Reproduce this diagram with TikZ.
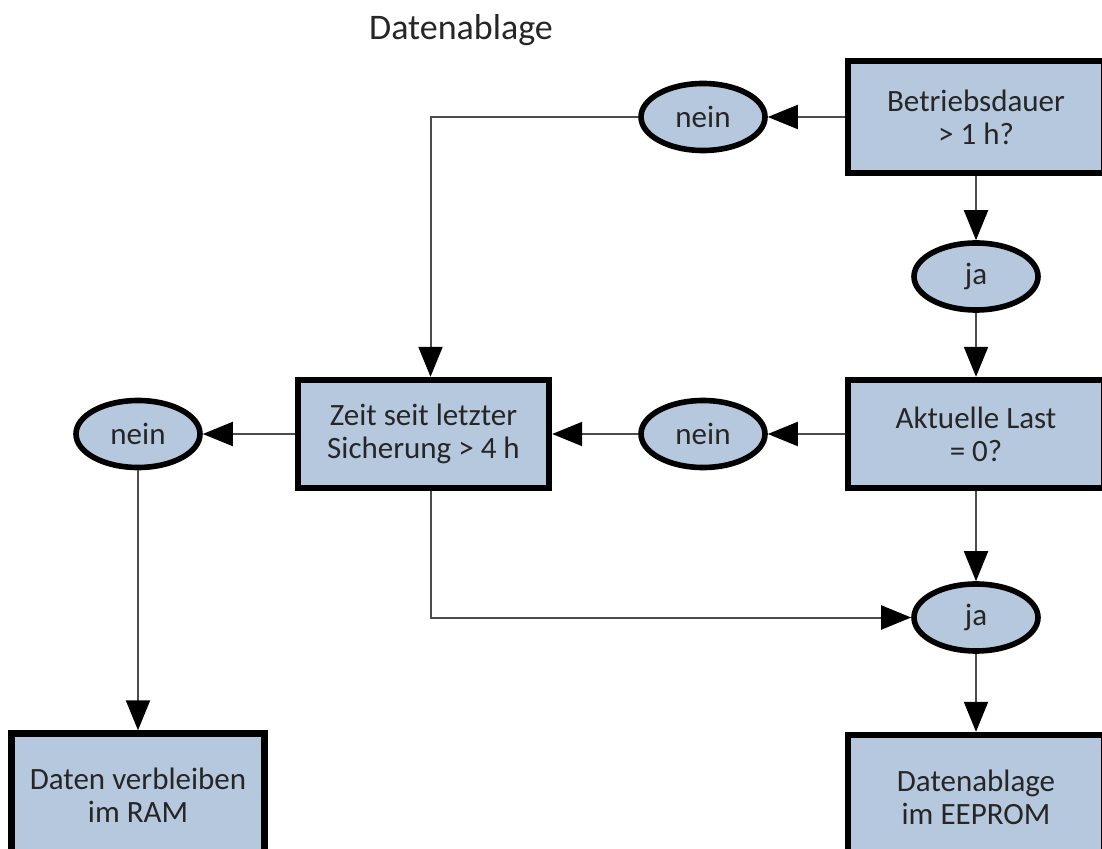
\documentclass[tikz,border=0pt]{standalone}
\usepackage{fontspec}
\setmainfont{Carlito}
\usetikzlibrary{shapes.geometric, positioning, arrows.meta}
\definecolor{boxblue}{RGB}{182,200,222}
\tikzset{every node/.style={ % Text of all nodes
text=black!85,
font=\fontsize{15.5}{16.5}\selectfont},
block/.style={ % Sets the properties for each box
rectangle, draw=black, line width=3.2pt,
fill=boxblue, align=center, inner sep=2pt,
minimum width=128pt, minimum height=54pt},
answer/.style={ % Yes/no ellipses
ellipse, draw=black, line width=2.8pt,
fill=boxblue, inner sep=0pt,
minimum width=62pt, minimum height=33.5pt},
link/.style={ % Sets the properties for each connector
draw=black!70, line width=1pt,
-{Triangle[length=15pt, width=12pt, color=black]}}}

\begin{document}
\begin{tikzpicture}[x=0.5pt, y=-0.5pt]
    \useasboundingbox (0,0) rectangle (1102,849);
    \clip (0,0) rectangle (1102,849);

    \node[font=\fontsize{18}{20}\selectfont] (titel) at (461,30) {Datenablage};

    \node[block, minimum height=56pt] (dauer) at (976,117) {Betriebsdauer\\> 1 h?};
    \node[answer, below=32pt of dauer] (ja1) {ja};
    \node[block, below=32pt of ja1] (last) {Aktuelle Last\\= 0?};
    \node[answer, below=45pt of last] (ja2) {ja};
    \node[block, below=39pt of ja2, minimum height=62pt] (eeprom) {Datenablage\\im EEPROM};

    \node[answer, left=38.5pt of dauer] (nein1) {nein};
    \node[answer, left=38.5pt of last] (nein2) {nein};
    \node[block, left=43pt of nein2, minimum width=125.5pt] (zeit) {Zeit seit letzter\\Sicherung > 4 h};
    \node[answer, left=46pt of zeit] (nein3) {nein};
    \node[block, below=130pt of nein3, minimum width=126.5pt, minimum height=62pt] (ram) {Daten verbleiben\\im RAM};

    \draw[link] (dauer) -- (nein1);
    \draw[link] (nein1.west) -| ([xshift=3.5pt]zeit.north);
    \draw[link] (dauer) -- (ja1);
    \draw[link] (ja1) -- (last);
    \draw[link] (last) -- (nein2);
    \draw[link] (nein2) -- (zeit);
    \draw[link] (zeit) -- (nein3);
    \draw[link] (nein3) -- (ram);
    \draw[link] (last) -- (ja2);
    \draw[link] ([xshift=3.5pt]zeit.south) |- (ja2.west);
    \draw[link] (ja2) -- (eeprom);

\end{tikzpicture}
\end{document}
